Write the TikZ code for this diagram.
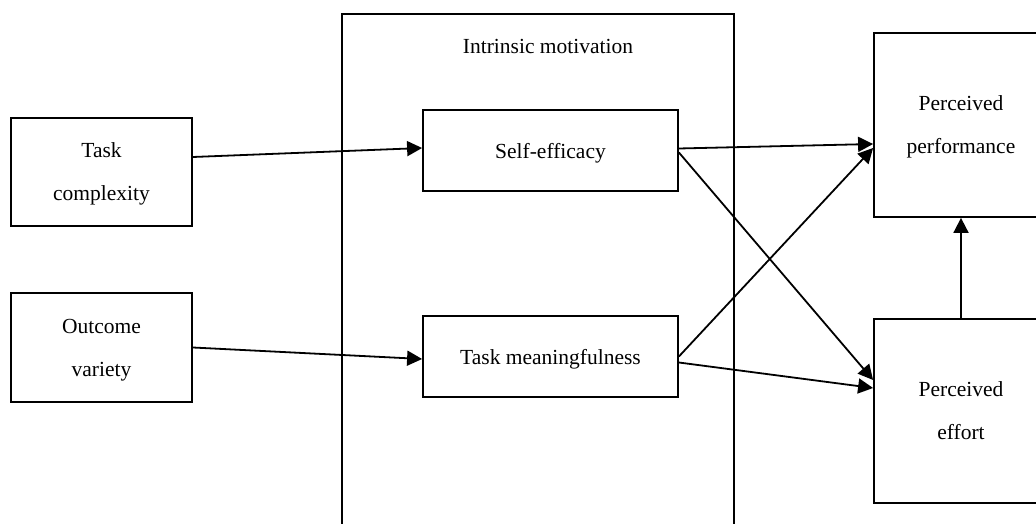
\documentclass[tikz,border=0pt]{standalone}
\usepackage{fontspec}
\setmainfont{Liberation Serif}
\usetikzlibrary{arrows.meta, calc}

\tikzset{
  box/.style={draw, line width=1.8pt, inner sep=0pt, align=center, text depth=0pt, font=\fontsize{21.5}{43}\selectfont},
  link/.style={-{Triangle[length=15pt, width=15pt]}, line width=1.8pt},
}

\begin{document}
\begin{tikzpicture}[x=1pt, y=-1pt]
\useasboundingbox (0,0) rectangle (1036,524);
\clip (0,0) rectangle (1036,524);
% Intrinsic motivation frame (runs off the bottom)
\node[box, minimum width=392pt, minimum height=546pt] (im) at (538,287) {};
\node[font=\fontsize{21.5}{43}\selectfont] (imlabel) at (548,46) {Intrinsic motivation};
% Task characteristics
\node[box, minimum width=181pt, minimum height=108pt] (tc) at (101.5,172) {Task\\complexity};
\node[box, minimum width=181pt, minimum height=109pt] (ov) at (101.5,347.5) {Outcome\\variety};
% Mediators
\node[box, minimum width=255pt, minimum height=81pt] (se) at (550.5,150.5) {Self-efficacy};
\node[box, minimum width=255pt, minimum height=81pt] (tm) at (550.5,356.5) {Task meaningfulness};
% Outcomes (cut at the right edge)
\node[box, minimum width=174pt, minimum height=184pt] (pp) at (961,125) {Perceived\\performance};
\node[box, minimum width=174pt, minimum height=184pt] (pe) at (961,411) {Perceived\\effort};
% Paths
\draw[link] ($(tc.east)+(0,-15)$) -- ($(se.west)+(0,-2.5)$);
\draw[link] (ov.east) -- ($(tm.west)+(0,2.5)$);
\draw[link] ($(se.east)+(0,-2)$) -- ($(pp.west)+(0,19)$);
\draw[link] ($(se.east)+(0,2)$) -- ($(pe.west)+(0,-31)$);
\draw[link] (tm.east) -- ($(pp.west)+(0,23)$);
\draw[link] ($(tm.east)+(0,6)$) -- ($(pe.west)+(0,-23)$);
\draw[link] (pe.north) -- (pp.south);
\end{tikzpicture}
\end{document}
